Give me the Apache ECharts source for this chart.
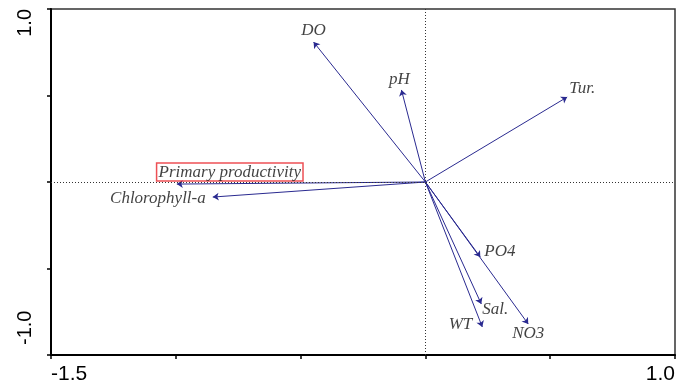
<!DOCTYPE html>
<html>
<head>
<meta charset="utf-8">
<script src="https://cdn.jsdelivr.net/npm/echarts@6/dist/echarts.min.js"></script>
<style>html,body{margin:0;padding:0;background:#fff}#c{width:678px;height:381px}</style>
</head>
<body>
<div id="c"></div>
<script>
// Variable names and arrow end coordinates (RDA axis 1, axis 2)
const variables = ['DO', 'pH', 'Tur.', 'Primary productivity', 'Chlorophyll-a', 'PO4', 'Sal.', 'WT', 'NO3'];
const axis1 = [-0.448, -0.096, 0.568, -0.996, -0.852, 0.220, 0.224, 0.228, 0.412];
const axis2 = [0.809, 0.532, 0.491, -0.012, -0.087, -0.434, -0.705, -0.838, -0.821];
const xTickLabels = ['-1.5', '1.0'];
const yTickLabels = ['-1.0', '1.0'];

// label placement (style only)
const labelLayout = {
  'DO': {align: 'center', offset: [0, -12]},
  'pH': {align: 'center', offset: [-2, -10]},
  'Tur.': {align: 'left', offset: [2, -9]},
  'Primary productivity': {align: 'center', offset: [53, -12], boxed: true},
  'Chlorophyll-a': {align: 'right', offset: [-7, 1]},
  'PO4': {align: 'left', offset: [4, -6]},
  'Sal.': {align: 'left', offset: [1, 6]},
  'WT': {align: 'right', offset: [-10, -2]},
  'NO3': {align: 'center', offset: [0, 9]}
};

const arrowData = variables.map((n, i) => ({name: n, coords: [[0, 0], [axis1[i], axis2[i]]]}));
const labelData = variables.map((n, i) => {
  const l = labelLayout[n];
  const lab = {align: l.align, offset: l.offset};
  if (l.boxed) {
    Object.assign(lab, {borderColor: '#e8242a', borderWidth: 1.5, padding: [1, 2, 0, 2]});
  }
  return {name: n, value: [axis1[i], axis2[i]], label: lab};
});

const chart = echarts.init(document.getElementById('c'));
chart.setOption({
  animation: false,
  backgroundColor: '#fff',
  grid: {left: 51, right: 3, top: 9, bottom: 26, show: true, borderColor: '#333', borderWidth: 1.5, outerBoundsMode: 'none', containLabel: false},
  xAxis: {
    type: 'value', min: -1.5, max: 1.0, interval: 0.5,
    axisLine: {show: true, onZero: false, lineStyle: {color: '#000', width: 2}},
    axisTick: {show: true, length: 4, lineStyle: {color: '#000', width: 1.5}},
    splitLine: {show: false},
    axisLabel: {
      margin: 9, fontFamily: 'Liberation Sans', fontSize: 21, color: '#000',
      alignMinLabel: 'left', alignMaxLabel: 'right',
      formatter: v => {
        const s = v.toFixed(1);
        return xTickLabels.includes(s) ? s : '';
      }
    }
  },
  yAxis: {
    type: 'value', min: -1.0, max: 1.0, interval: 0.5,
    axisLine: {show: true, onZero: false, lineStyle: {color: '#000', width: 2}},
    axisTick: {show: true, length: 4, lineStyle: {color: '#000', width: 1.5}},
    splitLine: {show: false},
    axisLabel: {
      rotate: 90, margin: 16, fontFamily: 'Liberation Sans', fontSize: 20, color: '#000',
      alignMinLabel: 'left', alignMaxLabel: 'right', padding: [0, 0, 0, 10],
      formatter: v => {
        const s = v.toFixed(1);
        return yTickLabels.includes(s) ? s : '';
      }
    }
  },
  series: [
    {
      type: 'lines',
      coordinateSystem: 'cartesian2d',
      symbol: ['none', 'arrow'],
      symbolSize: 6,
      lineStyle: {color: '#2a2a90', width: 1, opacity: 1},
      data: arrowData,
      z: 3
    },
    {
      type: 'scatter',
      symbolSize: 0,
      data: labelData,
      label: {
        show: true, position: 'inside', formatter: '{b}',
        fontFamily: 'Liberation Serif', fontStyle: 'italic', fontSize: 17, color: '#111',
        verticalAlign: 'middle'
      },
      markLine: {
        silent: true, symbol: 'none', label: {show: false},
        lineStyle: {color: '#333', type: [1, 2], width: 1},
        data: [{xAxis: 0}, {yAxis: 0}]
      },
      z: 4
    }
  ]
});
</script>
</body>
</html>
